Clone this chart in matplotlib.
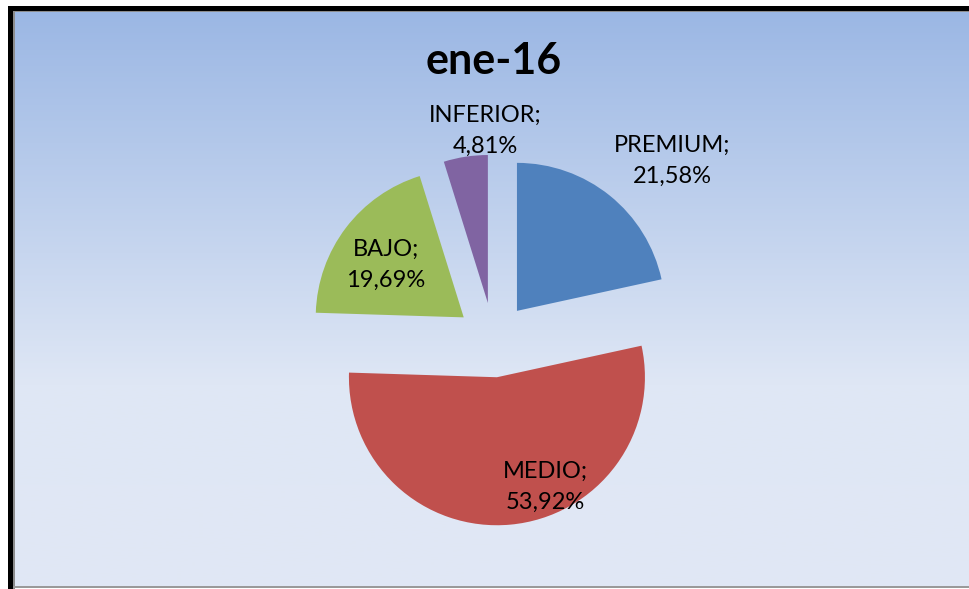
import numpy as np
import matplotlib.pyplot as plt
from matplotlib.patches import Rectangle
from matplotlib.colors import LinearSegmentedColormap

categories = ['PREMIUM', 'MEDIO', 'BAJO', 'INFERIOR']
shares = [21.58, 53.92, 19.69, 4.81]
colors = ['#4F81BD', '#C0504D', '#9BBB59', '#8064A2']
title = 'ene-16'

# label centres in pixel coords (from top-left)
label_pos = [(672, 161), (545, 487), (386, 265), (485, 131)]

W, H = 969, 589
fig = plt.figure(figsize=(W / 100, H / 100), dpi=100)
fig.patch.set_facecolor('white')

ax = fig.add_axes([0, 0, 1, 1])
ax.set_xlim(0, W)
ax.set_ylim(H, 0)
ax.axis('off')

# gradient background of the chart area
x0, y0, x1, y1 = 13, 10, W, 587
grad_cmap = LinearSegmentedColormap.from_list(
    'bg', [(0, '#9BB7E4'), (0.65, '#DFE7F5'), (1, '#E1E8F5')])
grad = np.linspace(0, 1, 256).reshape(-1, 1)
ax.imshow(grad, cmap=grad_cmap, extent=(x0, x1, y1, y0), aspect='auto', zorder=0)

# frame: black on top/left, grey inner line and bottom
ax.add_patch(Rectangle((8, 6), W, 4.5, color='black', zorder=3, lw=0))
ax.add_patch(Rectangle((8, 6), 5, H, color='black', zorder=3, lw=0))
ax.add_patch(Rectangle((13, 10.5), W, 1.8, color='#8C8C8C', zorder=3, lw=0))
ax.add_patch(Rectangle((13, 10.5), 1.8, H, color='#8C8C8C', zorder=3, lw=0))
ax.add_patch(Rectangle((13, 585.5), W, 2.5, color='#9A9A9A', zorder=3, lw=0))
ax.set_ylim(H, 0)

# pie in a separate axes using pixel data units (explode is in data units)
pax = fig.add_axes([0, 0, 1, 1])
pax.patch.set_alpha(0)
pax.pie(shares, colors=colors, startangle=90, counterclock=False,
        explode=[37.4] * 4, radius=148, center=(493.5, H - 340),
        wedgeprops=dict(linewidth=0), frame=True)
pax.set_xlim(0, W)
pax.set_ylim(0, H)
pax.axis('off')

font = ['Lato', 'DejaVu Sans']
for name, val, (lx, ly) in zip(categories, shares, label_pos):
    txt = f'{name};\n{val:.2f}%'.replace('.', ',')
    pax.text(lx, H - ly, txt, ha='center', va='center', fontsize=17,
             family=font, linespacing=1.62, color='black')

fig.text(494 / W, 1 - 61 / H, title, ha='center', va='center',
         fontsize=31, fontweight='bold', family=font)

fig.savefig('out.png', dpi=100)
